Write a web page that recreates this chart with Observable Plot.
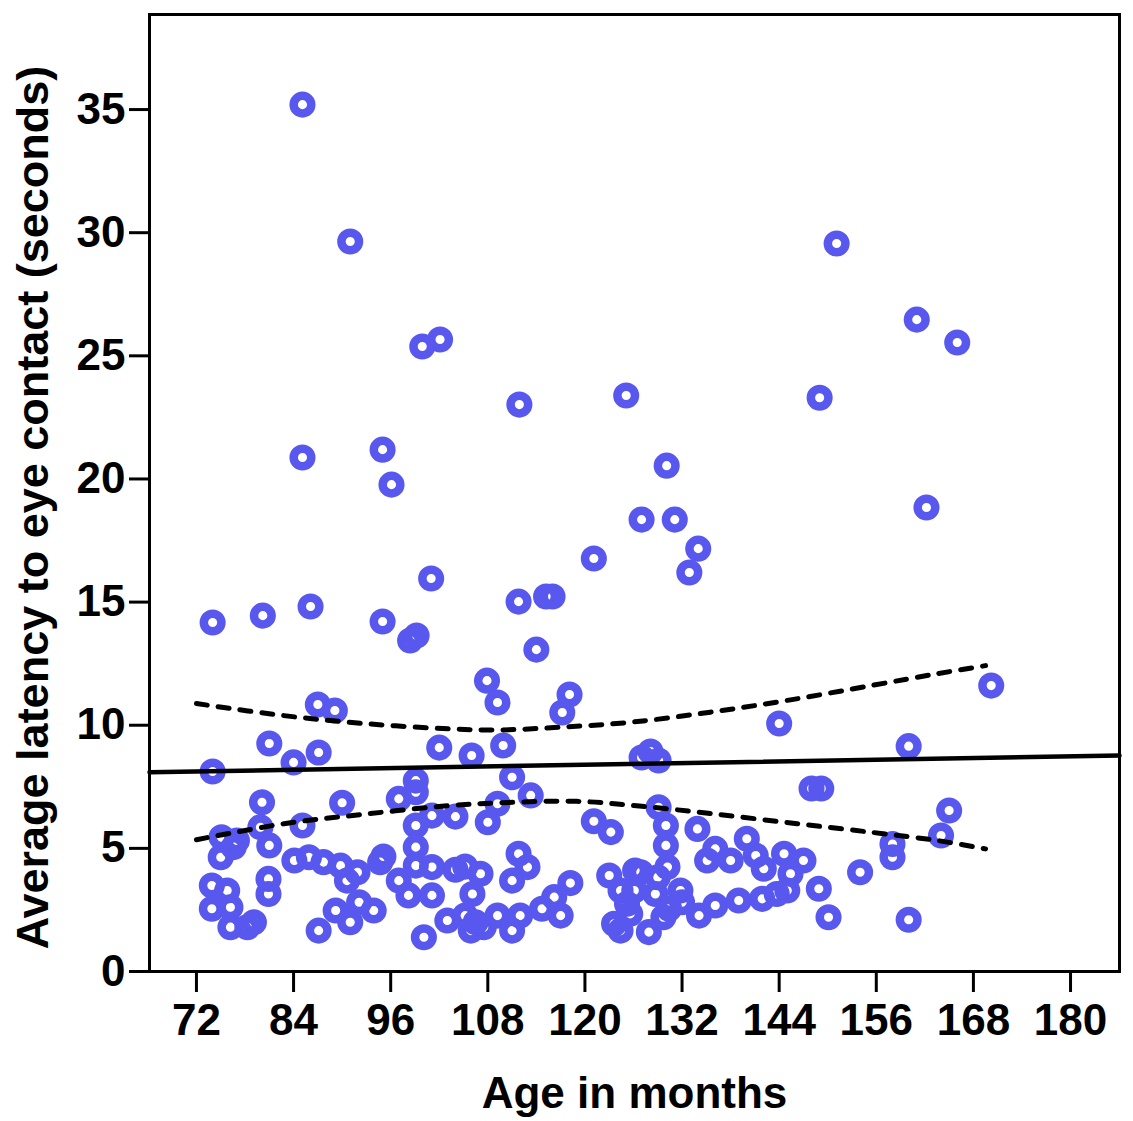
<!DOCTYPE html>
<html>
<head>
<meta charset="utf-8">
<script src="https://cdn.jsdelivr.net/npm/d3@7"></script>
<script src="https://cdn.jsdelivr.net/npm/@observablehq/plot@0.6"></script>
<style>
  html, body { margin: 0; padding: 0; background: #fff; }
  #chart svg { display: block; }
</style>
</head>
<body>
<div id="chart"></div>
<script>
// Scatter points: age in months and average latency (seconds)
const ageMonths = [
  85.1, 91.0, 151.1, 161.0, 166.0, 102.1, 99.9, 111.9, 125.1, 149.0,
  95.0, 85.1, 96.1, 130.1, 162.2, 127.0, 131.1, 134.0, 121.1, 132.9,
  101.0, 115.2, 116.0, 111.8, 86.1, 80.2, 74.0, 95.0, 98.4, 99.2,
  114.0, 107.9, 109.2, 170.2, 118.1, 117.2, 144.0, 87.0, 89.1,
  81.0, 87.1, 84.0, 102.0, 106.0, 109.9, 74.0, 160.0, 127.0, 128.1,
  129.1, 148.0, 149.2, 165.0, 164.0, 158.0, 158.0, 154.0, 160.0,
  99.1, 99.1, 97.0, 111.0, 113.3, 109.2, 108.0, 101.1, 104.0, 99.1,
  99.1, 99.1, 101.1, 97.0, 98.2, 101.1, 104.0, 105.2, 107.1, 106.1,
  111.8, 112.9, 111.0, 118.2, 116.2, 114.7, 117.0, 121.1, 123.2, 123.0,
  124.4, 125.2, 123.6, 124.4, 126.2, 103.0, 105.2, 106.5, 107.5, 105.9,
  109.2, 111.0, 112.0, 100.1, 95.1,
  80.1, 90.0, 75.1, 77.0, 79.9, 85.1, 81.0, 75.0, 76.6, 84.1,
  85.9, 87.7, 89.8, 90.6, 91.9, 94.7, 80.9, 80.9, 73.9, 73.9,
  75.8, 76.2, 76.2, 78.3, 79.1, 87.1, 89.2, 91.0, 92.1, 93.9,
  129.1, 130.0, 130.0, 133.9, 136.1, 135.1, 140.0, 141.1, 142.1, 138.0,
  144.6, 145.4, 145.0, 147.0, 148.9, 150.1, 126.9, 129.0, 130.2, 126.1,
  128.7, 131.8, 130.4, 132.0, 134.1, 136.1, 139.0, 141.9, 143.7, 127.9,
  129.7, 125.6
];
const latencySec = [
  35.20, 29.64, 29.56, 26.47, 25.54, 25.66, 25.38, 23.02, 23.39, 23.30,
  21.19, 20.87, 19.77, 20.54, 18.84, 18.35, 18.35, 17.17, 16.77, 16.20,
  15.96, 15.23, 15.23, 15.02, 14.82, 14.45, 14.17, 14.21, 13.44, 13.64,
  13.07, 11.81, 10.92, 11.61, 11.25, 10.52, 10.07, 10.84, 10.60,
  9.26, 8.89, 8.49, 9.09, 8.77, 9.18, 8.12, 9.15, 8.69, 8.93,
  8.57, 7.43, 7.43, 6.54, 5.52, 5.18, 4.64, 4.03, 2.10,
  7.75, 7.28, 7.01, 7.89, 7.15, 6.81, 6.06, 6.33, 6.29, 5.93,
  5.05, 4.30, 4.24, 3.69, 3.09, 3.09, 4.13, 4.26, 3.97, 3.15,
  4.78, 4.24, 3.69, 3.59, 3.02, 2.55, 2.27, 6.10, 5.66, 3.90,
  3.29, 2.75, 1.94, 1.66, 4.10, 2.07, 2.27, 2.00, 1.80, 1.66,
  2.27, 1.66, 2.27, 1.39, 4.67,
  6.87, 6.85, 5.45, 5.32, 5.86, 5.93, 5.12, 4.64, 5.05, 4.51,
  4.64, 4.44, 4.30, 3.69, 4.03, 4.44, 3.76, 3.15, 3.49, 2.55,
  3.29, 2.61, 1.80, 1.80, 2.00, 1.66, 2.48, 2.00, 2.81, 2.48,
  6.67, 5.93, 5.12, 5.79, 4.98, 4.51, 5.39, 4.71, 4.17, 4.51,
  4.78, 3.97, 3.29, 4.51, 3.36, 2.20, 4.03, 3.83, 4.24, 3.29,
  3.15, 3.29, 2.55, 2.81, 2.27, 2.68, 2.88, 2.95, 3.15, 1.60,
  2.20, 2.34
];

// Fit line (solid) read at the frame edges
const fitAge = [66.2, 186.05];
const fitLat = [8.09, 8.77];

// Confidence band (dashed)
const upperAge = [72, 82.8, 93.1, 103.4, 109.6, 117.0, 125.6, 135.5, 145.4, 155.7, 163.5, 169.5];
const upperLat = [10.88, 10.39, 10.06, 9.85, 9.81, 9.92, 10.12, 10.53, 11.03, 11.63, 12.09, 12.42];
const lowerAge = [72, 82.8, 93.1, 103.4, 109.6, 119.0, 126.7, 135.9, 146.2, 155.7, 163.5, 169.5];
const lowerLat = [5.35, 6.00, 6.40, 6.74, 6.85, 6.91, 6.72, 6.40, 6.00, 5.64, 5.32, 4.98];

const xTicks = [72, 84, 96, 108, 120, 132, 144, 156, 168, 180];
const yTicks = [0, 5, 10, 15, 20, 25, 30, 35];

const xLabel = "Age in months";
const yLabel = "Average latency to eye contact (seconds)";

const points = ageMonths.map((a, i) => ({age: a, lat: latencySec[i]}));
const fit = fitAge.map((a, i) => ({age: a, lat: fitLat[i]}));
const upper = upperAge.map((a, i) => ({age: a, lat: upperLat[i]}));
const lower = lowerAge.map((a, i) => ({age: a, lat: lowerLat[i]}));

const font = "'Liberation Sans', Arial, Helvetica, sans-serif";

const chart = Plot.plot({
  width: 1133,
  height: 1121,
  marginLeft: 149,
  marginRight: 14,
  marginTop: 14,
  marginBottom: 150,
  style: {fontFamily: font, background: "#fff", color: "#000", overflow: "visible"},
  x: {domain: [66.2, 186.05], axis: null},
  y: {domain: [0, 38.86], axis: null},
  marks: [
    Plot.dot(points, {x: "age", y: "lat", r: 8.8, stroke: "#5858ef", strokeWidth: 8.5, fill: "none"}),
    Plot.line(fit, {x: "age", y: "lat", stroke: "#000", strokeWidth: 4.5}),
    Plot.line(upper, {x: "age", y: "lat", stroke: "#000", strokeWidth: 5, strokeDasharray: "11,11", curve: "catmull-rom"}),
    Plot.line(lower, {x: "age", y: "lat", stroke: "#000", strokeWidth: 5, strokeDasharray: "11,11", curve: "catmull-rom"}),
    Plot.frame({stroke: "#000", strokeWidth: 3}),
    Plot.axisX({ticks: xTicks, tickSize: 21, tickPadding: 11, strokeWidth: 3, fontSize: 44, fontWeight: "bold", label: null, tickFormat: d => String(d)}),
    Plot.axisY({ticks: yTicks, tickSize: 20, tickPadding: 4, strokeWidth: 3, fontSize: 44, fontWeight: "bold", label: null, tickFormat: d => String(d)}),
    Plot.text([xLabel], {frameAnchor: "bottom", dy: 122, fontSize: 44, fontWeight: "bold", lineAnchor: "middle", textAnchor: "middle"}),
    Plot.text([yLabel], {frameAnchor: "left", dx: -116, dy: 14.5, rotate: -90, fontSize: 45, fontWeight: "bold", lineAnchor: "middle", textAnchor: "middle"})
  ]
});
document.getElementById("chart").appendChild(chart);
</script>
</body>
</html>
